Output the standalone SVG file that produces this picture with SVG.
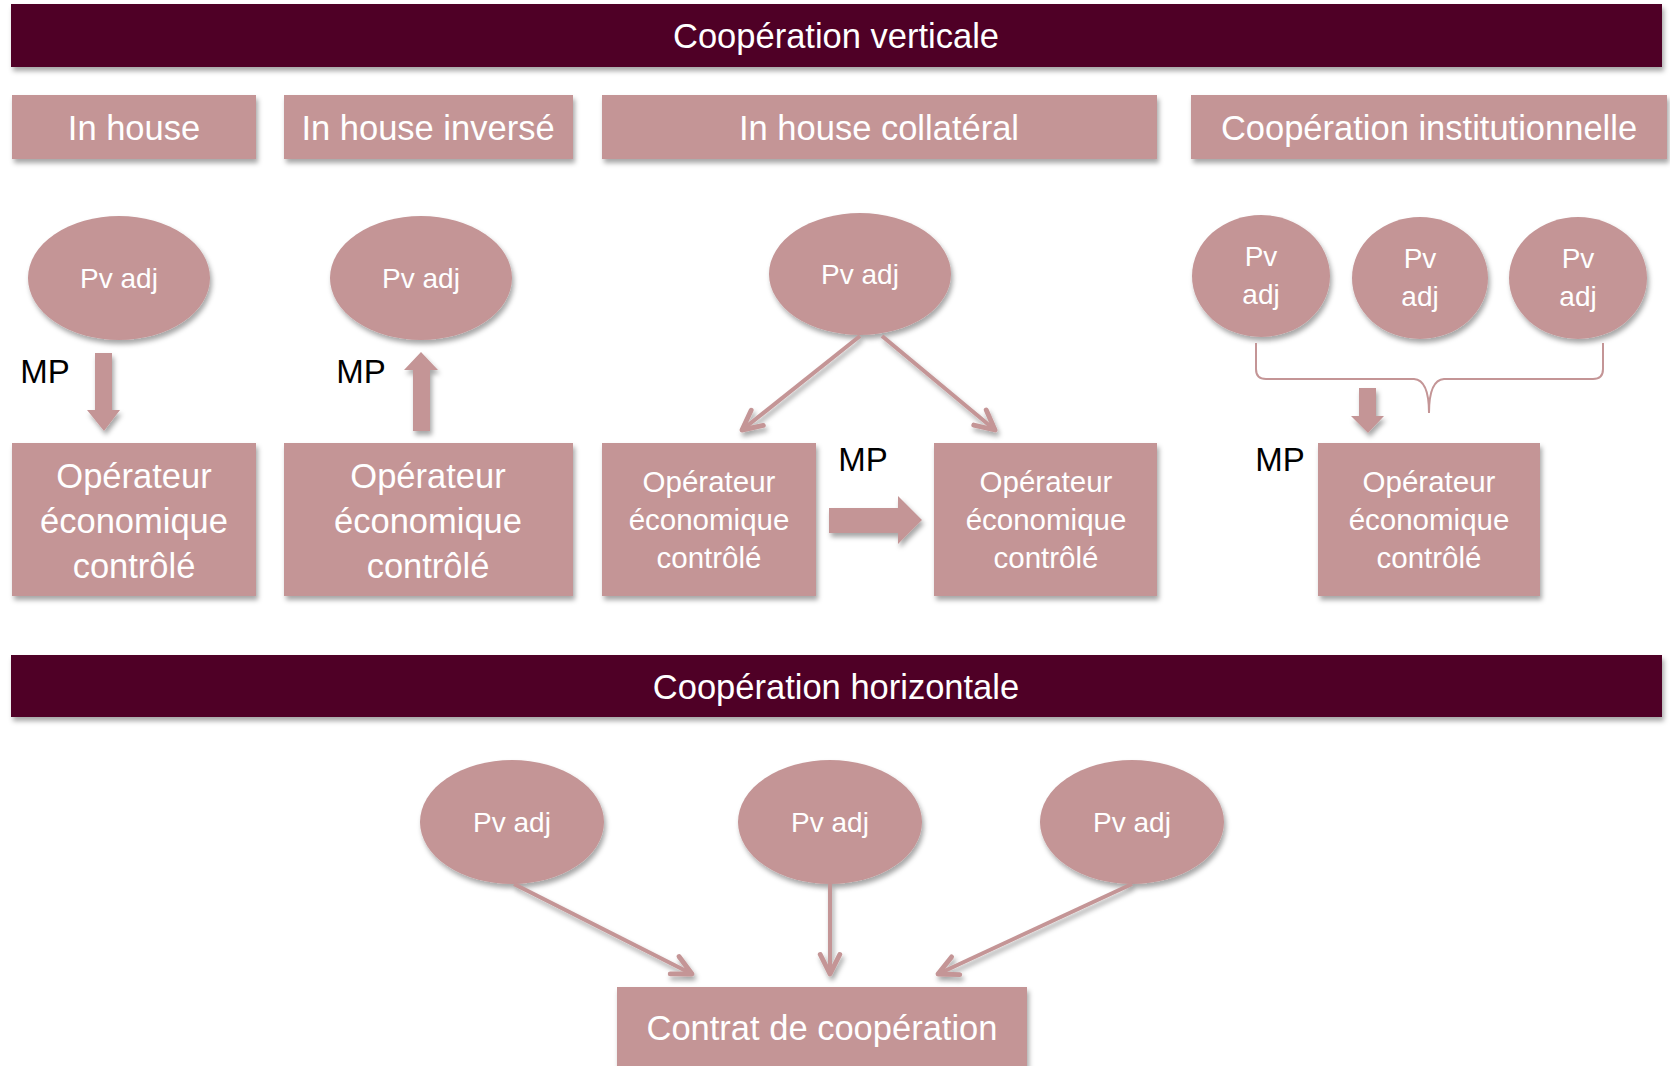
<svg xmlns="http://www.w3.org/2000/svg" width="1670" height="1066" viewBox="0 0 1670 1066">
<style>
.bar{fill:#4f0027}
.pk{fill:#c49596}
.sh{filter:url(#shadow)}
text{font-family:"Liberation Sans",Arial,sans-serif;text-anchor:middle}
.wt{fill:#ffffff}
.bk{fill:#000000}
.t33{font-size:33px}
.t34{font-size:34.5px}
.t29{font-size:29.5px}
.t27{font-size:28px}
.conn{stroke:#c49596;stroke-width:4;fill:none;marker-end:url(#open)}
.brace{stroke:#c49596;stroke-width:2;fill:none}
</style>
<defs>
<filter id="shadow" x="-20%" y="-20%" width="140%" height="150%">
<feDropShadow dx="2" dy="4" stdDeviation="2.5" flood-color="#000" flood-opacity="0.35"/>
</filter>
<marker id="open" markerUnits="userSpaceOnUse" viewBox="0 0 24 24" refX="21" refY="12" markerWidth="26" markerHeight="26" orient="auto">
<path d="M3,3 L21,12 L3,21" fill="none" stroke="#c49596" stroke-width="4.5" stroke-linecap="round" stroke-linejoin="round"/>
</marker>
</defs>

<g id="title-vertical">
<rect class="bar sh" x="11" y="4" width="1651" height="63"/>
<text class="wt t34" x="836" y="48">Coopération verticale</text>
</g>

<g id="hdr-inhouse"><rect class="pk sh" x="12" y="95" width="244" height="64"/><text class="wt t34" x="134" y="140">In house</text></g>
<g id="hdr-inverse"><rect class="pk sh" x="284" y="95" width="289" height="64"/><text class="wt t34" x="428" y="140">In house inversé</text></g>
<g id="hdr-collateral"><rect class="pk sh" x="602" y="95" width="555" height="64"/><text class="wt t34" x="879" y="140">In house collatéral</text></g>
<g id="hdr-institution"><rect class="pk sh" x="1191" y="95" width="476" height="64"/><text class="wt t34" x="1429" y="140">Coopération institutionnelle</text></g>

<g id="pv-inhouse"><ellipse class="pk sh" cx="119" cy="278" rx="91" ry="62"/><text class="wt t27" x="119" y="288">Pv adj</text></g>
<g id="pv-inverse"><ellipse class="pk sh" cx="421" cy="278" rx="91" ry="62"/><text class="wt t27" x="421" y="288">Pv adj</text></g>
<g id="pv-collateral"><ellipse class="pk sh" cx="860" cy="274" rx="91" ry="61"/><text class="wt t27" x="860" y="284">Pv adj</text></g>
<g id="pv-inst-1"><ellipse class="pk sh" cx="1261" cy="276" rx="69" ry="61"/><text class="wt t27" x="1261" y="266">Pv</text><text class="wt t27" x="1261" y="304">adj</text></g>
<g id="pv-inst-2"><ellipse class="pk sh" cx="1420" cy="278" rx="68" ry="61"/><text class="wt t27" x="1420" y="268">Pv</text><text class="wt t27" x="1420" y="306">adj</text></g>
<g id="pv-inst-3"><ellipse class="pk sh" cx="1578" cy="278" rx="69" ry="61"/><text class="wt t27" x="1578" y="268">Pv</text><text class="wt t27" x="1578" y="306">adj</text></g>

<g id="op-inhouse"><rect class="pk sh" x="12" y="443" width="244" height="153"/><text class="wt t34" x="134" y="488">Opérateur</text><text class="wt t34" x="134" y="533">économique</text><text class="wt t34" x="134" y="578">contrôlé</text></g>
<g id="op-inverse"><rect class="pk sh" x="284" y="443" width="289" height="153"/><text class="wt t34" x="428" y="488">Opérateur</text><text class="wt t34" x="428" y="533">économique</text><text class="wt t34" x="428" y="578">contrôlé</text></g>
<g id="op-coll-left"><rect class="pk sh" x="602" y="443" width="214" height="153"/><text class="wt t29" x="709" y="492">Opérateur</text><text class="wt t29" x="709" y="530">économique</text><text class="wt t29" x="709" y="568">contrôlé</text></g>
<g id="op-coll-right"><rect class="pk sh" x="934" y="443" width="223" height="153"/><text class="wt t29" x="1046" y="492">Opérateur</text><text class="wt t29" x="1046" y="530">économique</text><text class="wt t29" x="1046" y="568">contrôlé</text></g>
<g id="op-inst"><rect class="pk sh" x="1318" y="443" width="222" height="153"/><text class="wt t29" x="1429" y="492">Opérateur</text><text class="wt t29" x="1429" y="530">économique</text><text class="wt t29" x="1429" y="568">contrôlé</text></g>

<g id="title-horizontal">
<rect class="bar sh" x="11" y="655" width="1651" height="62"/>
<text class="wt t34" x="836" y="699">Coopération horizontale</text>
</g>

<g id="pv-h-1"><ellipse class="pk sh" cx="512" cy="822" rx="92" ry="62"/><text class="wt t27" x="512" y="832">Pv adj</text></g>
<g id="pv-h-2"><ellipse class="pk sh" cx="830" cy="822" rx="92" ry="62"/><text class="wt t27" x="830" y="832">Pv adj</text></g>
<g id="pv-h-3"><ellipse class="pk sh" cx="1132" cy="822" rx="92" ry="62"/><text class="wt t27" x="1132" y="832">Pv adj</text></g>

<g id="contrat"><rect class="pk sh" x="617" y="987" width="410" height="80"/><text class="wt t34" x="822" y="1040">Contrat de coopération</text></g>

<g id="labels">
<text class="bk t33" x="45" y="383">MP</text>
<text class="bk t33" x="361" y="383">MP</text>
<text class="bk t33" x="863" y="471">MP</text>
<text class="bk t33" x="1280" y="471">MP</text>
</g>

<g id="connectors">
<path class="pk sh" d="M95,353 H112 V410 H120 L104,431 L87,410 H95 Z"/>
<path class="pk sh" d="M413,431 H430 V370 H438 L421,352 L404,370 H413 Z"/>
<path class="pk sh" d="M829,508 H898 V496 L922,520 L898,544 V533 H829 Z"/>
<path class="pk sh" d="M1359,388 H1376 V416 H1384 L1368,433 L1351,416 H1359 Z"/>
<path class="brace" d="M1256,343 V369 Q1256,379 1266,379 H1414 Q1429,380 1429,413 Q1429,380 1444,379 H1593 Q1603,379 1603,369 V343"/>
<g class="sh">
<line class="conn" x1="860" y1="336" x2="742" y2="430"/>
<line class="conn" x1="882" y1="336" x2="995" y2="430"/>
<line class="conn" x1="514" y1="884" x2="692" y2="974"/>
<line class="conn" x1="830" y1="884" x2="830" y2="974"/>
<line class="conn" x1="1132" y1="884" x2="938" y2="974"/>
</g>
</g>
</svg>
